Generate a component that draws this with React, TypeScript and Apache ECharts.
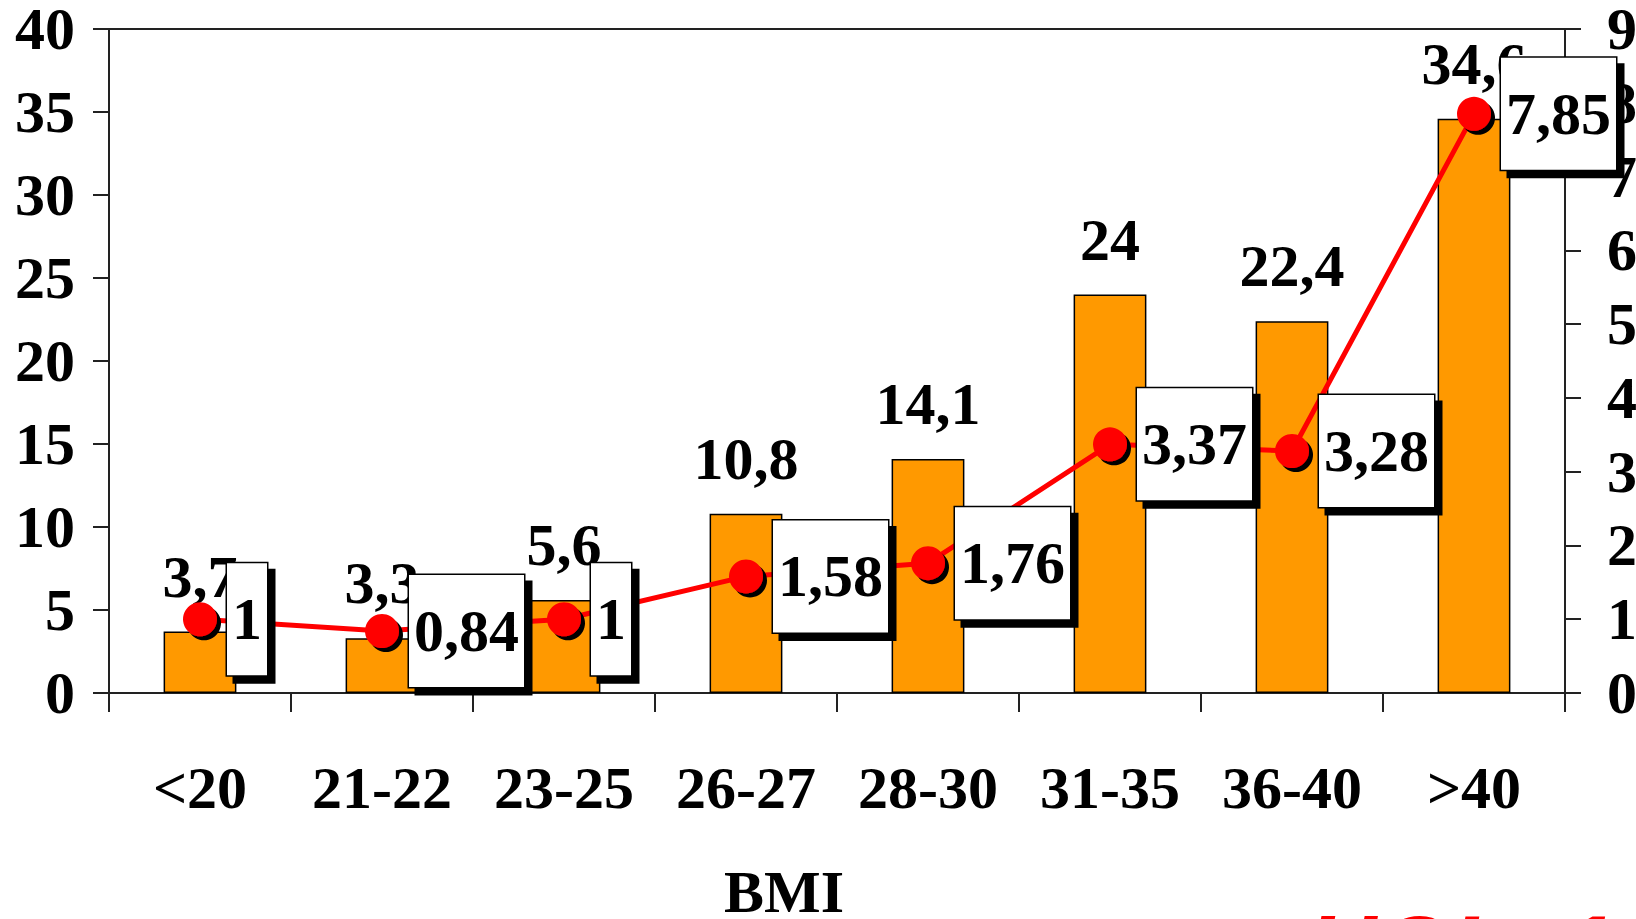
import React, { useEffect, useRef } from "react";
import * as echarts from "echarts";

const categories = ["<20", "21-22", "23-25", "26-27", "28-30", "31-35", "36-40", ">40"];
const barValues = [3.7, 3.3, 5.6, 10.8, 14.1, 24, 22.4, 34.6];
const lineValues = [1, 0.84, 1, 1.58, 1.76, 3.37, 3.28, 7.85];
const xAxisTitle = "BMI";
const cornerText = "HOL  1";

const SERIF = "'Liberation Serif', 'Times New Roman', serif";
const fmt = (v: number) => String(v).replace(".", ",");

export default function App() {
  const ref = useRef<HTMLDivElement>(null);
  useEffect(() => {
    if (!ref.current) return;
    const chart = echarts.init(ref.current, null, { renderer: "svg" });
    const axisLine = { show: true, lineStyle: { color: "#222", width: 2 } };
    const bigLabel = { fontSize: 60, fontWeight: "bold" as const, fontFamily: SERIF, color: "#000" };
    chart.setOption({
      animation: false,
      backgroundColor: "#fff",
      grid: {
        left: 109,
        right: 71,
        top: 29,
        bottom: 226,
        containLabel: false,
        outerBoundsMode: "none",
        show: true,
        borderColor: "#222",
        borderWidth: 2,
        backgroundColor: "transparent",
      },
      xAxis: {
        type: "category",
        data: categories,
        axisLine,
        axisTick: { show: true, length: 19, lineStyle: { color: "#222", width: 2 } },
        axisLabel: { ...bigLabel, margin: 65 },
        name: xAxisTitle,
        nameLocation: "middle",
        nameGap: 169,
        nameTextStyle: { ...bigLabel, padding: [0, 106, 0, 0] },
      },
      yAxis: [
        {
          type: "value",
          min: 0,
          max: 40,
          interval: 5,
          axisLine,
          axisTick: { show: true, length: 16, lineStyle: { color: "#222", width: 2 } },
          axisLabel: { ...bigLabel, margin: 34 },
          splitLine: { show: false },
        },
        {
          type: "value",
          min: 0,
          max: 9,
          interval: 1,
          position: "right",
          axisLine,
          axisTick: { show: true, length: 16, lineStyle: { color: "#222", width: 2 } },
          axisLabel: { ...bigLabel, margin: 42 },
          splitLine: { show: false },
        },
      ],
      series: [
        {
          type: "bar",
          data: barValues,
          barWidth: "40%",
          itemStyle: { color: "#FF9900", borderColor: "#000", borderWidth: 1.5 },
          label: {
            show: true,
            position: "top",
            distance: 25,
            ...bigLabel,
            formatter: (p: any) => fmt(p.value),
          },
          z: 2,
        },
        {
          type: "line",
          yAxisIndex: 1,
          data: lineValues,
          symbol: "circle",
          symbolSize: 34,
          lineStyle: { color: "#FF0000", width: 5 },
          itemStyle: {
            color: "#FF0000",
            shadowColor: "#000",
            shadowBlur: 0,
            shadowOffsetX: 4,
            shadowOffsetY: 4,
          },
          label: {
            show: true,
            position: "right",
            distance: 10,
            ...bigLabel,
            lineHeight: 60,
            backgroundColor: "#fff",
            borderColor: "#000",
            borderWidth: 1.5,
            padding: [26, 5, 26, 5],
            shadowColor: "#000",
            shadowBlur: 0,
            shadowOffsetX: 7,
            shadowOffsetY: 7,
            formatter: (p: any) => fmt(p.value),
          },
          z: 5,
        },
      ],
      graphic: [
        {
          type: "text",
          left: 1307,
          top: 901,
          style: {
            text: cornerText,
            fill: "#FF0000",
            font: "italic bold 96px 'Liberation Sans', Arial, sans-serif",
          },
        },
      ],
    });
    return () => chart.dispose();
  }, []);
  return (
    <div
      ref={ref}
      style={{ position: "absolute", left: 0, top: 0, width: 1636, height: 919, overflow: "hidden" }}
    />
  );
}
